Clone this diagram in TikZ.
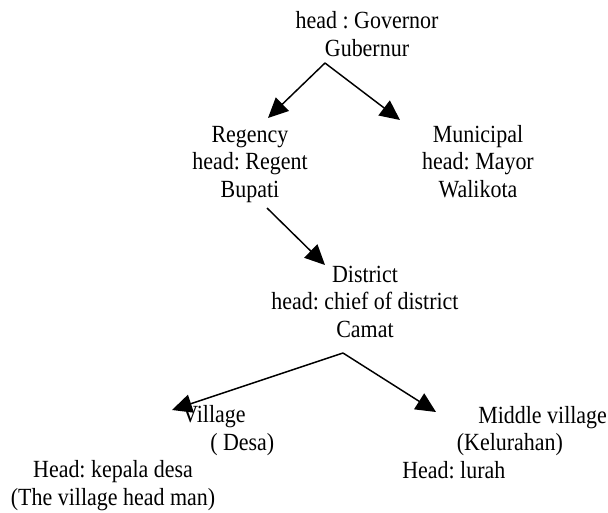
\documentclass[tikz,border=0pt]{standalone}
\usepackage{fontspec}
\setmainfont[FakeStretch=0.89]{Liberation Serif}
\usetikzlibrary{arrows.meta, calc}

\begin{document}
\frenchspacing
\begin{tikzpicture}[
  x=0.75pt, y=-0.75pt,
  every node/.style={font=\fontsize{18.5}{20.6}\selectfont, inner sep=0pt},
  title/.style={align=center, anchor=base},
  leftlines/.style={align=left, anchor=base west},
  arrow/.style={-{Triangle[length=15pt,width=14pt]}, line width=1.1pt, draw=black}
]
\useasboundingbox (0,0) rectangle (608,512);

% === PROVINCE ===
\node[title] (gov) at (367,56) {head : Governor\\Gubernur};

% === REGENCY / MUNICIPAL ===
\node[title] (regency) at (250,197) {Regency\\head: Regent\\Bupati};
\node[title] (municipal) at (478,197) {Municipal\\head: Mayor\\Walikota};

% === DISTRICT ===
\node[title] (district) at (365,337) {District\\head: chief of district\\Camat};

% === VILLAGES ===
\node[leftlines] (village) at (182,450) {Village\\\hspace*{21pt}( Desa)};
\node[title] (vhead) at (113,505) {Head: kepala desa\\(The village head man)};
\node[leftlines] (middle) at (402,478) {\hspace*{57pt}Middle village\\\hspace*{41pt}(Kelurahan)\\Head: lurah};

% === ARROWS ===
\coordinate (govfork) at ($(gov.base)+(-42,7)$);
\coordinate (distfork) at ($(district.base)+(-22,16)$);
\draw[arrow] (govfork) -- ($(regency.base)+(18,-79)$);
\draw[arrow] (govfork) -- ($(municipal.base)+(-78,-77)$);
\draw[arrow] ($(regency.base)+(17,11)$) -- ($(district.base)+(-40,-72)$);
\draw[arrow] (distfork) -- ($(village.base west)+(-10,-40)$);
\draw[arrow] (distfork) -- ($(middle.base west)+(34,-66)$);

\end{tikzpicture}
\end{document}
